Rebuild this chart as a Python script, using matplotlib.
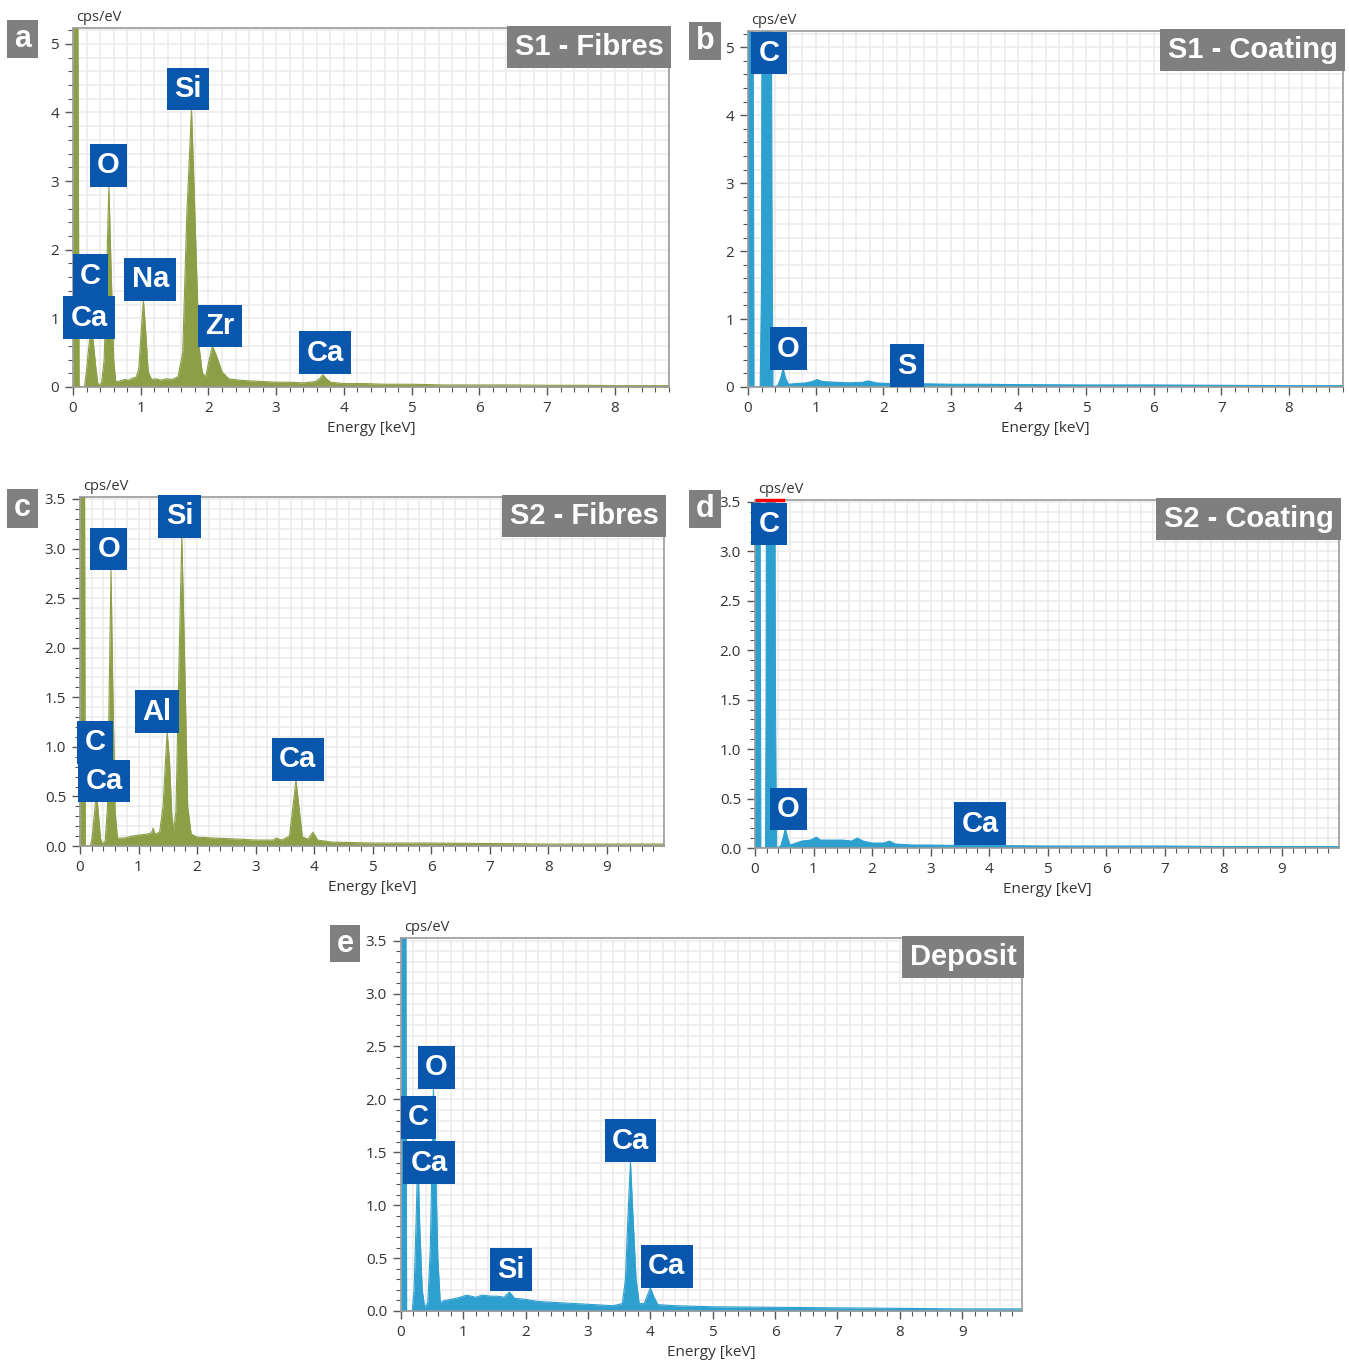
import numpy as np
import matplotlib
matplotlib.use('Agg')
import matplotlib.pyplot as plt
from matplotlib.ticker import MultipleLocator, FormatStrFormatter
from matplotlib.patches import Rectangle

GREEN = '#8c9f47'
BLUE = '#2ea0cf'
LABEL_BLUE = '#0857ad'
GREY_BOX = '#7f7f7f'

# a) S1 - Fibres, spectrum outline (keV, cps/eV)
a_keV = [0.0, 0.07, 0.09, 0.17, 0.20, 0.24, 0.27, 0.30, 0.34, 0.37, 0.42, 0.46, 0.50, 0.53, 0.56,
         0.60, 0.63, 0.70, 0.76, 0.82, 0.88, 0.93, 0.97, 1.01, 1.04, 1.07, 1.11, 1.16, 1.22, 1.30,
         1.38, 1.46, 1.55, 1.62, 1.68, 1.75, 1.80, 1.86, 1.91, 1.96, 2.01, 2.06, 2.12, 2.20, 2.30,
         2.45, 2.60, 2.80, 3.00, 3.20, 3.40, 3.58, 3.64, 3.69, 3.74, 3.80, 4.00, 4.30, 4.60, 5.00,
         5.50, 6.00, 6.50, 7.00, 7.50, 8.00, 8.80]
a_cps = [6.0, 6.0, 0.0, 0.0, 0.25, 0.65, 0.85, 0.65, 0.25, 0.03, 0.05, 0.40, 1.80, 2.92, 1.80,
         0.40, 0.08, 0.09, 0.11, 0.10, 0.13, 0.14, 0.25, 0.85, 1.26, 0.85, 0.22, 0.11, 0.12, 0.10,
         0.12, 0.11, 0.15, 0.50, 2.50, 4.05, 2.50, 0.60, 0.20, 0.15, 0.40, 0.60, 0.45, 0.22, 0.12,
         0.10, 0.09, 0.08, 0.07, 0.07, 0.06, 0.08, 0.12, 0.18, 0.12, 0.07, 0.05, 0.05, 0.04, 0.04,
         0.03, 0.03, 0.03, 0.025, 0.025, 0.02, 0.02]
a_labels = ['C', 'Ca', 'O', 'Na', 'Si', 'Zr', 'Ca']
a_lab_keV = [0.26, 0.24, 0.52, 1.14, 1.70, 2.17, 3.72]
a_lab_cps = [1.31, 0.70, 2.92, 1.26, 4.03, 0.58, 0.19]

# b) S1 - Coating
b_keV = [0.0, 0.07, 0.09, 0.18, 0.20, 0.215, 0.27, 0.33, 0.36, 0.37, 0.44, 0.48, 0.52, 0.56,
         0.60, 0.70, 0.85, 0.95, 1.02, 1.10, 1.30, 1.50, 1.70, 1.78, 1.90, 2.10, 2.30, 2.50,
         3.00, 3.50, 4.00, 5.00, 6.00, 7.00, 8.00, 8.80]
b_cps = [8.0, 8.0, 0.0, 0.0, 1.5, 10.0, 30.0, 10.0, 1.5, 0.0, 0.02, 0.12, 0.27, 0.12,
         0.04, 0.05, 0.06, 0.08, 0.11, 0.08, 0.07, 0.06, 0.07, 0.09, 0.06, 0.05, 0.06, 0.05,
         0.04, 0.04, 0.035, 0.03, 0.03, 0.025, 0.02, 0.02]
b_labels = ['C', 'O', 'S']
b_lab_keV = [0.31, 0.60, 2.35]
b_lab_cps = [4.60, 0.25, 0.0]

# c) S2 - Fibres
c_keV = [0.0, 0.07, 0.09, 0.18, 0.21, 0.25, 0.28, 0.31, 0.35, 0.38, 0.43, 0.47, 0.50, 0.53, 0.56,
         0.60, 0.64, 0.75, 0.90, 1.00, 1.15, 1.22, 1.25, 1.28, 1.36, 1.42, 1.46, 1.49, 1.53, 1.57,
         1.60, 1.64, 1.69, 1.74, 1.79, 1.84, 1.90, 2.00, 2.30, 2.70, 3.00, 3.30, 3.35, 3.45, 3.58,
         3.64, 3.69, 3.74, 3.80, 3.90, 3.98, 4.06, 4.30, 5.00, 6.00, 7.00, 8.00, 9.00, 10.0]
c_cps = [6.0, 6.0, 0.0, 0.0, 0.10, 0.35, 0.55, 0.35, 0.08, 0.02, 0.05, 0.40, 1.60, 2.78, 1.60,
         0.35, 0.08, 0.08, 0.10, 0.11, 0.12, 0.13, 0.18, 0.12, 0.14, 0.40, 0.85, 1.15, 0.85, 0.30,
         0.15, 0.35, 1.80, 3.12, 1.80, 0.40, 0.12, 0.09, 0.08, 0.07, 0.06, 0.06, 0.08, 0.06, 0.10,
         0.40, 0.67, 0.40, 0.09, 0.07, 0.14, 0.06, 0.04, 0.03, 0.03, 0.025, 0.02, 0.02, 0.02]
c_labels = ['C', 'Ca', 'O', 'Al', 'Si', 'Ca']
c_lab_keV = [0.26, 0.41, 0.49, 1.32, 1.70, 3.72]
c_lab_cps = [0.83, 0.44, 2.78, 1.14, 3.11, 0.66]

# d) S2 - Coating
d_keV = [0.0, 0.08, 0.10, 0.18, 0.19, 0.21, 0.26, 0.32, 0.35, 0.37, 0.44, 0.48, 0.52, 0.56,
         0.60, 0.70, 0.80, 0.95, 1.05, 1.12, 1.30, 1.50, 1.65, 1.75, 1.85, 2.00, 2.20, 2.30,
         2.40, 2.70, 3.00, 3.50, 3.70, 4.00, 5.00, 6.00, 7.00, 8.00, 10.0]
d_cps = [6.0, 6.0, 0.0, 0.0, 1.5, 10.0, 25.0, 10.0, 1.5, 0.0, 0.02, 0.10, 0.20, 0.10,
         0.03, 0.05, 0.07, 0.08, 0.11, 0.08, 0.08, 0.08, 0.07, 0.10, 0.07, 0.05, 0.05, 0.07,
         0.04, 0.03, 0.03, 0.025, 0.03, 0.025, 0.02, 0.02, 0.02, 0.015, 0.015]
d_labels = ['C', 'O', 'Ca']
d_lab_keV = [0.24, 0.57, 3.85]
d_lab_cps = [3.06, 0.18, 0.03]

# e) Deposit
e_keV = [0.0, 0.07, 0.09, 0.18, 0.21, 0.24, 0.27, 0.30, 0.34, 0.38, 0.43, 0.47, 0.50, 0.52, 0.55,
         0.59, 0.63, 0.70, 0.80, 0.95, 1.05, 1.20, 1.30, 1.45, 1.55, 1.65, 1.74, 1.82, 2.00, 2.20,
         2.50, 2.80, 3.10, 3.40, 3.55, 3.60, 3.64, 3.68, 3.72, 3.77, 3.82, 3.90, 3.96, 4.00, 4.05,
         4.12, 4.40, 5.00, 6.00, 7.00, 8.00, 9.00, 10.0]
e_cps = [6.0, 6.0, 0.0, 0.0, 0.20, 0.80, 1.50, 0.80, 0.20, 0.03, 0.08, 0.60, 1.50, 2.10, 1.50,
         0.50, 0.08, 0.10, 0.11, 0.13, 0.15, 0.13, 0.15, 0.14, 0.14, 0.13, 0.18, 0.12, 0.11, 0.09,
         0.08, 0.07, 0.06, 0.05, 0.07, 0.30, 0.90, 1.41, 0.90, 0.30, 0.07, 0.07, 0.16, 0.22, 0.14,
         0.06, 0.05, 0.04, 0.035, 0.03, 0.025, 0.02, 0.02]
e_labels = ['O', 'C', 'Ca', 'Si', 'Ca', 'Ca']
e_lab_keV = [0.57, 0.28, 0.45, 1.77, 3.68, 4.26]
e_lab_cps = [2.10, 1.63, 1.20, 0.19, 1.41, 0.22]

W, H = 1349, 1361
fig = plt.figure(figsize=(W / 100, H / 100), dpi=100)
fig.patch.set_facecolor('white')


def px_rect(left, top, right, bottom):
    return [left / W, 1 - bottom / H, (right - left) / W, (bottom - top) / H]


def panel(rect, keV, cps, colour, xmax, ymax, ymajor, yfmt, title, labels, lab_keV, lab_cps,
          clip_mark=False):
    ax = fig.add_axes(rect)
    ax.fill_between(keV, 0, cps, color=colour, lw=0, zorder=2)
    ax.plot(keV, cps, color=colour, lw=0.8, zorder=2)
    if clip_mark:
        # counts running off the top of the scale
        over = np.array(keV)[np.array(cps) > ymax]
        ax.plot([over.min() + 0.03, over.max() + 0.15], [ymax, ymax], color='red', lw=2.5,
                clip_on=False, zorder=3)
    ax.set_xlim(0, xmax)
    ax.set_ylim(0, ymax)
    ax.xaxis.set_major_locator(MultipleLocator(1))
    ax.xaxis.set_minor_locator(MultipleLocator(0.2))
    ax.yaxis.set_major_locator(MultipleLocator(ymajor))
    ax.yaxis.set_minor_locator(MultipleLocator(ymajor / 5))
    ax.yaxis.set_major_formatter(FormatStrFormatter(yfmt))
    ax.set_axisbelow(True)
    ax.grid(which='both', color='#ececec', lw=1.2)
    for s in ax.spines.values():
        s.set_color('#9a9a9a')
        s.set_linewidth(1.2)
    ax.tick_params(which='major', length=6, width=1, color='#555555', labelsize=11,
                   labelcolor='#333333', pad=4)
    ax.tick_params(which='minor', length=3.5, width=0.8, color='#555555')
    for t in ax.get_xticklabels() + ax.get_yticklabels():
        t.set_fontfamily('Open Sans')
    ax.set_xlabel('Energy [keV]', fontsize=11, family='Open Sans', color='#333333', labelpad=4)
    ax.text(0.005, 1.008, 'cps/eV', transform=ax.transAxes, fontsize=10.5, family='Open Sans',
            color='#333333', va='bottom', ha='left')

    ax.annotate(title, xy=(1, 1), xycoords='axes fraction', xytext=(-4, -3.5),
                textcoords='offset points', ha='right', va='top', fontsize=21,
                fontweight='bold', family='Liberation Sans', color='white', zorder=6,
                bbox=dict(boxstyle='square,pad=0.25', fc=GREY_BOX, ec='none'))

    for lab, x, y in zip(labels, lab_keV, lab_cps):
        ax.annotate(lab, xy=(x, y), xytext=(0, 5.25), textcoords='offset points',
                    ha='center', va='bottom', fontsize=21, fontweight='bold',
                    family='Liberation Sans', color='white', zorder=5, annotation_clip=False,
                    bbox=dict(boxstyle='square,pad=0.25', fc=LABEL_BLUE, ec='none'))
    return ax


def letter_box(letter, left, top, right, bottom):
    fig.add_artist(Rectangle((left / W, 1 - bottom / H), (right - left) / W, (bottom - top) / H,
                             transform=fig.transFigure, fc=GREY_BOX, ec='none'))
    fig.text((left + right) / 2 / W, 1 - (top + bottom) / 2 / H, letter, ha='center',
             va='center', fontsize=22, fontweight='bold', family='Liberation Sans', color='white')


panel(px_rect(73, 28, 669, 387), a_keV, a_cps, GREEN, 8.8, 5.23, 1, '%d', 'S1 - Fibres',
      a_labels, a_lab_keV, a_lab_cps)
panel(px_rect(748, 31, 1343, 387), b_keV, b_cps, BLUE, 8.8, 5.24, 1, '%d', 'S1 - Coating',
      b_labels, b_lab_keV, b_lab_cps)
panel(px_rect(80, 497, 664, 846), c_keV, c_cps, GREEN, 9.98, 3.52, 0.5, '%.1f', 'S2 - Fibres',
      c_labels, c_lab_keV, c_lab_cps)
panel(px_rect(755, 500, 1339, 848), d_keV, d_cps, BLUE, 9.98, 3.52, 0.5, '%.1f', 'S2 - Coating',
      d_labels, d_lab_keV, d_lab_cps, clip_mark=True)
panel(px_rect(401, 938, 1022, 1311), e_keV, e_cps, BLUE, 9.96, 3.525, 0.5, '%.1f', 'Deposit',
      e_labels, e_lab_keV, e_lab_cps)

letter_box('a', 7, 20, 38, 58)
letter_box('b', 689, 22, 721, 60)
letter_box('c', 7, 489, 38, 528)
letter_box('d', 689, 490, 721, 528)
letter_box('e', 330, 925, 360, 962)

fig.savefig('out.png', dpi=100)
